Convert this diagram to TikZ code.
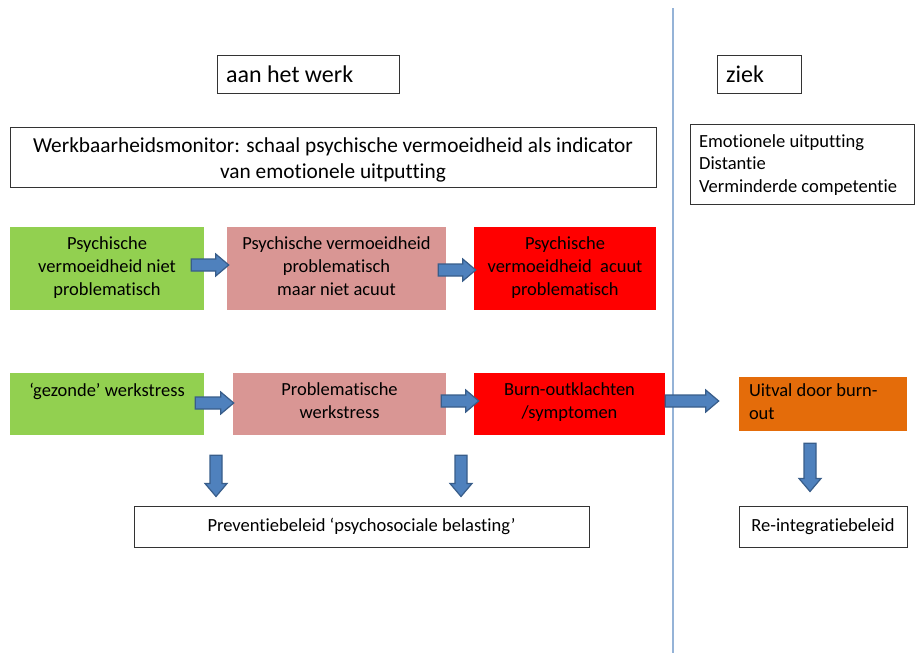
\documentclass[tikz,border=0pt]{standalone}
\usepackage{fontspec}
\setmainfont{Carlito}[Ligatures=NoCommon]
\usetikzlibrary{positioning,fit,calc}
\definecolor{okgreen}{HTML}{92D050}
\definecolor{warnpink}{HTML}{D99694}
\definecolor{alarmred}{HTML}{FF0000}
\definecolor{sickorange}{HTML}{E46C0A}
\definecolor{arrowblue}{HTML}{4F81BD}
\definecolor{arrowedge}{HTML}{385D8A}
\definecolor{splitblue}{HTML}{95B3D7}
\def\shaft{4.5pt}
\def\head{8.25pt}
\def\headlen{9.75pt}
\newcommand{\blockarrow}[2]{%
    \coordinate (tip base) at ($(#2)!\headlen!(#1)$);
    \filldraw[block arrow] ($(#1)!\shaft!90:(#2)$) -- ($(tip base)!\shaft!-90:(#1)$)
        -- ($(tip base)!\head!-90:(#1)$) -- (#2) -- ($(tip base)!\head!90:(#1)$)
        -- ($(tip base)!\shaft!90:(#1)$) -- ($(#1)!\shaft!-90:(#2)$) -- cycle;}

\begin{document}
\begin{tikzpicture}[x=0.75pt,y=-0.75pt,inner sep=0pt]
    \tikzstyle{frame}=[draw=black!80,line width=0.75pt]
    \tikzstyle{green phase}=[fill=okgreen]
    \tikzstyle{pink phase}=[fill=warnpink]
    \tikzstyle{red phase}=[fill=alarmred]
    \tikzstyle{orange phase}=[fill=sickorange]
    \tikzstyle{block arrow}=[fill=arrowblue,draw=arrowedge,line width=0.9pt]
    \tikzstyle{heading}=[font=\fontsize{18}{21}\selectfont]
    \tikzstyle{caption}=[align=center,font=\fontsize{13.85}{17.25}\selectfont]
    \tikzstyle{policy}=[font=\fontsize{13.9}{16}\selectfont]
    \useasboundingbox (0,0) rectangle (915,653);

    % Separation between working and sick
    \draw[splitblue,line width=1.1pt] (673,8) -- (673,653);

    % Headings
    \node[frame,fit={(217,55) (399,93)}] (work) {};
    \node[heading,right=7pt of work.west] (work-t) {aan het werk};
    \node[frame,fit={(717,55) (801,93)}] (sick) {};
    \node[heading,right=7pt of sick.west] (sick-t) {ziek};

    % Monitor and symptom boxes
    \node[frame,fit={(10,127) (656,187)}] (monitor) {};
    \node[align=center,font=\fontsize{16}{19.5}\selectfont] (monitor-t) at ($(monitor.center)+(0,2.5)$)
        {Werkbaarheidsmonitor: schaal psychische vermoeidheid als indicator\\van emotionele uitputting};
    \node[frame,fit={(690,124) (914.4,204)}] (symptoms) {};
    \node[align=left,font=\fontsize{13.9}{16.9}\selectfont,right=7pt of symptoms.west,yshift=-0.75pt] (symptoms-t)
        {Emotionele uitputting\\Distantie\\Verminderde competentie};

    % First row: fatigue
    \node[green phase,fit={(10,227) (204,310)}] (g1) {};
    \node[pink phase,fit={(227,227) (446,310)}] (p1) {};
    \node[red phase,fit={(474,227) (656,310)}] (r1) {};
    \node[caption,below=7.5pt of g1.north] (g1-t) {Psychische\\vermoeidheid niet\\problematisch};
    \node[caption,below=7.5pt of p1.north] (p1-t) {Psychische vermoeidheid\\problematisch\\maar niet acuut};
    \node[caption,below=7.5pt of r1.north] (r1-t) {Psychische\\vermoeidheid\ \ acuut\\problematisch};

    % Second row: stress
    \node[green phase,fit={(10,373) (204,435)}] (g2) {};
    \node[pink phase,fit={(233,373) (446,435)}] (p2) {};
    \node[red phase,fit={(474,373) (665,435)}] (r2) {};
    \node[orange phase,fit={(739,377) (907,431)}] (o2) {};
    \node[caption,below=7.5pt of g2.north] (g2-t) {‘gezonde’ werkstress};
    \node[caption,below=7.5pt of p2.north] (p2-t) {Problematische\\werkstress};
    \node[caption,below=7.5pt of r2.north] (r2-t) {Burn-outklachten\\/symptomen};
    \node[caption,align=left,below right=5pt and 7.5pt of o2.north west] (o2-t) {Uitval door burn-\\out};

    % Policies
    \node[frame,fit={(134,506) (589,547)}] (prevention) {};
    \node[policy] (prevention-t) at (prevention.center) {Preventiebeleid ‘psychosociale belasting’};
    \node[frame,fit={(739,506) (907,547)}] (reintegration) {};
    \node[policy] (reintegration-t) at (reintegration.center) {Re-integratiebeleid};

    % Arrow ends
    \coordinate (a1s) at ($(g1.east)+(-13,-3.5)$);
    \coordinate (a1e) at ($(p1.west)+(2,-3.5)$);
    \coordinate (a2s) at ($(p1.east)+(-8,1.5)$);
    \coordinate (a2e) at ($(r1.west)+(2,1.5)$);
    \coordinate (a3s) at ($(g2.east)+(-9,-1)$);
    \coordinate (a3e) at ($(p2.west)+(1,-1)$);
    \coordinate (a4s) at ($(p2.east)+(-5,-3)$);
    \coordinate (a4e) at ($(r2.west)+(5,-3)$);
    \coordinate (a5s) at ($(r2.east)+(0,-3)$);
    \coordinate (a5e) at ($(o2.west)+(-20,-3)$);
    \coordinate (d1s) at ($(g2.south)+(109,20)$);
    \coordinate (d1e) at ($(prevention.north)+(-145.5,-9)$);
    \coordinate (d2s) at ($(p2.south)+(121.5,20)$);
    \coordinate (d2e) at ($(prevention.north)+(99.5,-9)$);
    \coordinate (d3s) at ($(o2.south)+(-13,12)$);
    \coordinate (d3e) at ($(reintegration.north)+(-13,-14)$);

    % Draw the block arrows
    \foreach \source/\dest in {a1s/a1e,a2s/a2e,a3s/a3e,a4s/a4e,a5s/a5e,d1s/d1e,d2s/d2e,d3s/d3e}
        {\blockarrow{\source}{\dest}}
\end{tikzpicture}
\end{document}
